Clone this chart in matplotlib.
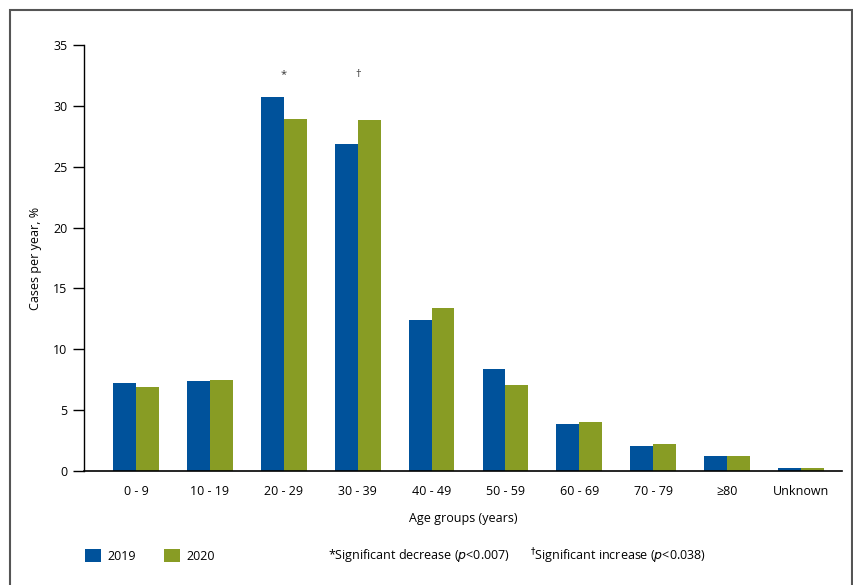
import numpy as np
import matplotlib.pyplot as plt
from matplotlib.patches import Rectangle

plt.rcParams['font.family'] = ['Open Sans', 'DejaVu Sans']

age_groups = ['0 - 9', '10 - 19', '20 - 29', '30 - 39', '40 - 49',
              '50 - 59', '60 - 69', '70 - 79', '≥80', 'Unknown']
cases_2019 = [7.2, 7.4, 30.7, 26.9, 12.4, 8.4, 3.9, 2.05, 1.2, 0.25]
cases_2020 = [6.9, 7.5, 28.9, 28.8, 13.4, 7.1, 4.0, 2.2, 1.2, 0.25]
marks = {2: '*', 3: '†'}

blue = '#00529b'
green = '#889c24'

fig = plt.figure(figsize=(8.54, 5.85), dpi=100)
ax = fig.add_axes([84 / 854, 1 - 471 / 585, (842 - 84) / 854, (471 - 45) / 585])

x = np.arange(len(age_groups))
w = 0.31
ax.bar(x - w / 2, cases_2019, w, color=blue, label='2019')
ax.bar(x + w / 2, cases_2020, w, color=green, label='2020')

# significance marks above the 20-29 and 30-39 groups
for i, m in marks.items():
    ax.text(i, 32.1, m, ha='center', va='bottom', fontsize=8, color='#333333')

ax.set_xlim(-0.704, 9.555)
ax.set_ylim(0, 35)
ax.set_yticks(range(0, 36, 5))
ax.set_xticks(x)
ax.set_xticklabels(age_groups, fontsize=9)
ax.tick_params(axis='x', length=0, pad=10)
ax.tick_params(axis='y', length=8, width=1, labelsize=9, pad=4)
for s in ['top', 'right']:
    ax.spines[s].set_visible(False)
ax.spines['left'].set_linewidth(1)
ax.spines['bottom'].set_linewidth(1.2)

ax.set_ylabel('Cases per year, %', fontsize=9, labelpad=8)
ax.set_xlabel('Age groups (years)', fontsize=9, labelpad=10)

fig.legend(loc='lower left', bbox_to_anchor=(74 / 854, 1 - 574 / 585), ncol=2,
           frameon=False, fontsize=9, handlelength=1.3, handleheight=1.3,
           columnspacing=2.2, handletextpad=0.5)

fig.text(328 / 854, 1 - 556 / 585, '*Significant decrease ($p$<0.007)',
         fontsize=9, va='center')
fig.text(530 / 854, 1 - 556 / 585, '$^{\\dagger}$Significant increase ($p$<0.038)',
         fontsize=9, va='center')

fig.patches.append(Rectangle((10 / 854, -0.1), (852 - 10) / 854, 1.1 - 10 / 585,
                             transform=fig.transFigure, fill=False,
                             edgecolor='#555555', linewidth=1.5))

fig.savefig('out.png', dpi=100)
